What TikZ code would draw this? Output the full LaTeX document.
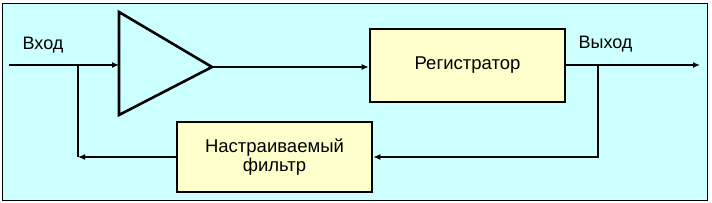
\documentclass[tikz,border=0pt]{standalone}
\usepackage{fontspec}
\setmainfont{Liberation Sans}
\usetikzlibrary{arrows.meta}
\definecolor{bgc}{HTML}{CCFFFF}
\definecolor{boxc}{HTML}{FFFFCC}
\begin{document}
\begin{tikzpicture}[x=1pt,y=-1pt,
  blk/.style={draw=black,line width=2.6pt,fill=boxc,inner sep=0pt,font=\fontsize{18.5}{20}\selectfont,align=center},
  wire/.style={line width=1.6pt},
  arr/.style={wire,-{Latex[length=7pt,width=6pt]}},
  lbl/.style={font=\fontsize{18}{20}\selectfont,inner sep=0pt}]
\useasboundingbox (0,0) rectangle (712,203);
\fill[white] (0,0) rectangle (712,203);
\draw[fill=bgc,line width=1pt] (2,4) rectangle (707,200);
% nodes
\node[blk,minimum width=195pt,minimum height=73pt] (reg) at (467.5,65.5) {Регистратор};
\node[blk,minimum width=195pt,minimum height=70pt] (filt) at (274.5,157) {Настраиваемый\\[-1pt]фильтр};
\coordinate (tl) at (119,12);
\coordinate (tb) at (119,115);
\coordinate (tap) at (212,67);
\coordinate (tin) at (119,65);
\draw[line width=2.6pt,fill=bgc,line join=miter] (tl) -- (tap) -- (tb) -- cycle;
\coordinate (in) at (9,65);
\coordinate (j1) at (78,65);
\coordinate (j1b) at (78,157);
\coordinate (j2) at (598,65);
\coordinate (j2b) at (598,157);
\coordinate (out) at (700,65);
\node[lbl,anchor=base] (lin) at (43,50) {Вход};
\node[lbl,anchor=base] (lout) at (605.5,49) {Выход};
% connectors
\draw[arr] (in) -- (tin);
\draw[arr] (tap) -- (tap -| reg.west);
\draw[arr] (reg.east |- j2) -- (out);
\draw[arr] (j2) -- (j2b) -- (filt.east |- j2b);
\draw[arr] (filt.west |- j1b) -- (j1b);
\draw[wire] (j1b) -- (j1);
\end{tikzpicture}
\end{document}
